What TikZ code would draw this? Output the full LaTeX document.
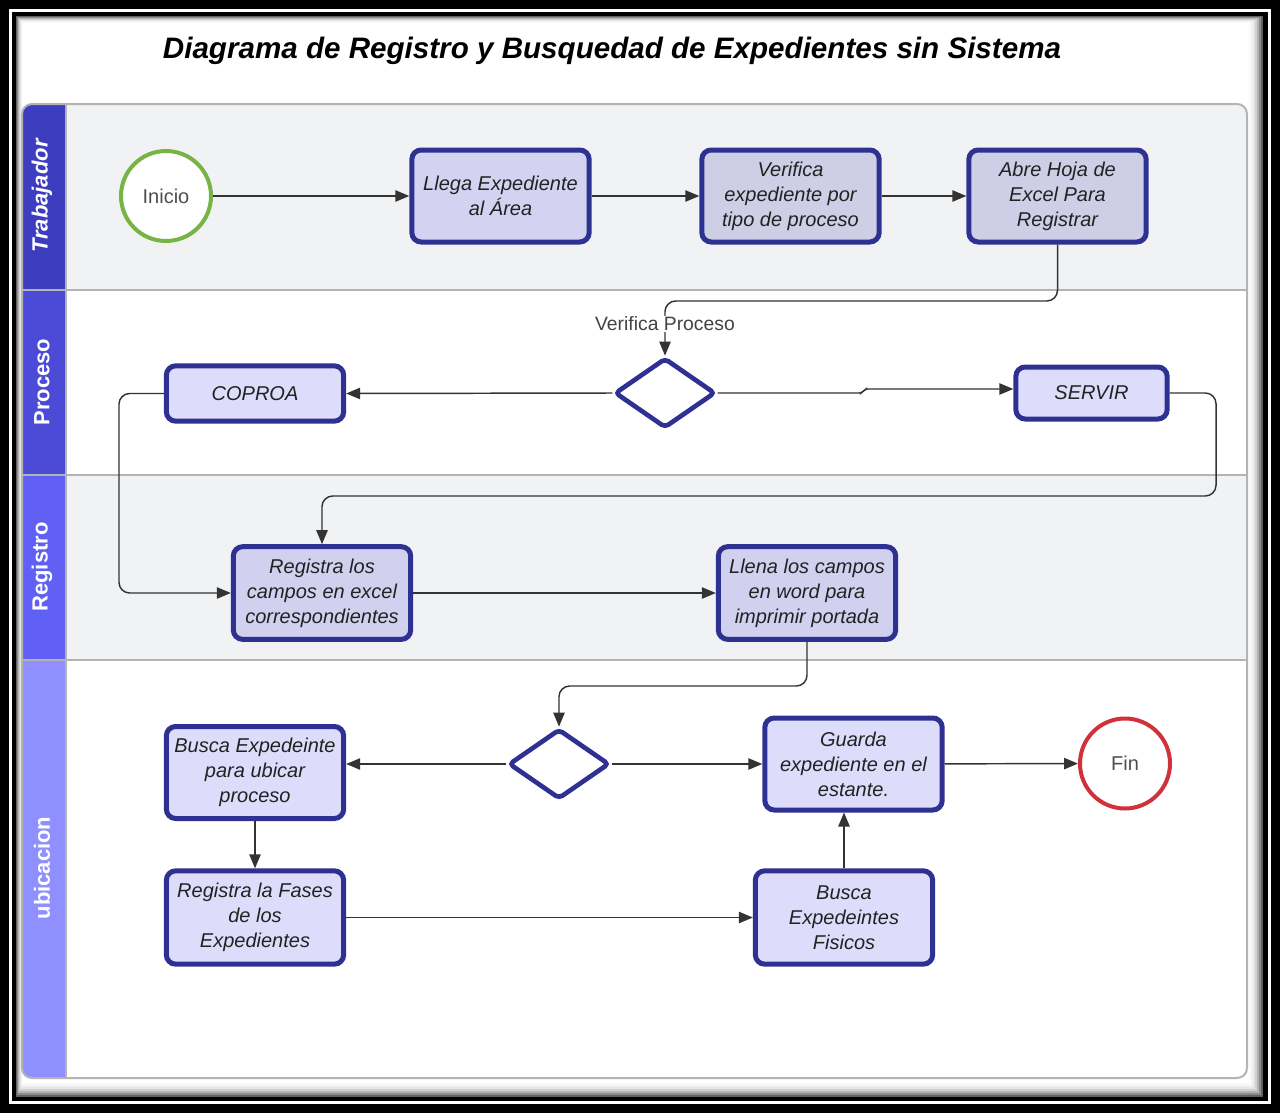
\documentclass[tikz,border=0pt]{standalone}
\usepackage{fontspec}
\setmainfont{Liberation Sans}
\usetikzlibrary{shapes.geometric,arrows.meta}

\definecolor{boxline}{HTML}{2E3192}
\definecolor{fillA}{HTML}{D3D3F1}
\definecolor{fillB}{HTML}{CECEE6}
\definecolor{fillC}{HTML}{D1D1EF}
\definecolor{fillD}{HTML}{DDDDFB}
\definecolor{lanegray}{HTML}{F1F2F4}
\definecolor{laneline}{HTML}{B4B4B4}
\definecolor{hdrA}{HTML}{3D3DBF}
\definecolor{hdrB}{HTML}{4B4BD8}
\definecolor{hdrC}{HTML}{6060F4}
\definecolor{hdrD}{HTML}{8F8FFF}
\definecolor{startgreen}{HTML}{78B346}
\definecolor{endred}{HTML}{D0313B}
\definecolor{connline}{HTML}{333333}
\definecolor{txt}{HTML}{222222}

\tikzset{
  boxfont/.style={font=\fontsize{15}{18.75}\selectfont\itshape, text=txt},
  procbox/.style={boxfont, draw=boxline, line width=3.75pt, rounded corners=7pt,
    minimum width=133pt, minimum height=69pt, inner sep=0pt, align=center},
  shortbox/.style={procbox, minimum height=41.5pt},
  startnode/.style={circle, draw=startgreen, fill=white, line width=3pt,
    minimum size=67.5pt, inner sep=0pt, font=\fontsize{15}{18}\selectfont, text=txt!80!white},
  endnode/.style={startnode, draw=endred},
  decision/.style={diamond, draw=boxline, fill=white, line width=3.5pt,
    rounded corners=3pt, minimum width=75.5pt, minimum height=52.5pt, inner sep=0pt},
  conn/.style={draw=connline, line width=1.1pt,
    -{Triangle[length=10.5pt,width=8.5pt]}, rounded corners=8pt},
  lanelbl/.style={rotate=90, text=white, font=\fontsize{16.5}{20}\selectfont\bfseries},
}

\begin{document}
\begin{tikzpicture}[x=0.75pt, y=-0.75pt]
\useasboundingbox (0,0) rectangle (1280,1113);

% outer frame
\fill[black] (0,0) rectangle (1280,1113);
\draw[white, line width=2.25pt] (10.5,10.5) rectangle (1269.5,1102.5);
\foreach \k/\c in {0/62,1/45,2/30,3/18,4/10,5/5,6/2,7/0}
  \fill[black!\c] (16+\k,16+\k) rectangle (1263-2*\k,1097-2*\k);

% title
\node[font=\fontsize{22.2}{26}\selectfont\bfseries\itshape, text=black] (title)
  at (612,51) {Diagrama de Registro y Busquedad de Expedientes sin Sistema};

% pool and lanes
\begin{scope}
  \clip[rounded corners=7.5pt] (22,104) rectangle (1247,1078);
  \fill[lanegray] (22,104) rectangle (1247,290);
  \fill[white] (22,290) rectangle (1247,475);
  \fill[lanegray] (22,475) rectangle (1247,660);
  \fill[white] (22,660) rectangle (1247,1078);
  \fill[hdrA] (22,104) rectangle (66,290);
  \fill[hdrB] (22,290) rectangle (66,475);
  \fill[hdrC] (22,475) rectangle (66,660);
  \fill[hdrD] (22,660) rectangle (66,1078);
\end{scope}
\draw[laneline, line width=1.5pt] (22,290) -- (1247,290);
\draw[laneline, line width=1.5pt] (22,475) -- (1247,475);
\draw[laneline, line width=1.5pt] (22,660) -- (1247,660);
\draw[laneline, line width=1.5pt] (66,104) -- (66,1078);
\draw[laneline, line width=1.5pt, rounded corners=7.5pt] (22,104) rectangle (1247,1078);

\node[lanelbl, font=\fontsize{16.5}{20}\selectfont\bfseries\itshape] (lTrab) at (42,196) {Trabajador};
\node[lanelbl] (lProc) at (42,382) {Proceso};
\node[lanelbl] (lReg) at (42,567) {Registro};
\node[lanelbl] (lUbi) at (42,868) {ubicacion};

% lane: Trabajador
\node[startnode] (inicio) at (166,196) {Inicio};
\node[procbox, fill=fillA] (llega) at (500.5,196) {Llega Expediente\\al Área};
\node[procbox, fill=fillB] (verif) at (790.5,196) {Verifica\\expediente por\\tipo de proceso};
\node[procbox, fill=fillB] (abre) at (1057.5,196) {Abre Hoja de\\Excel Para\\Registrar};

% lane: Proceso
\node[decision] (d1) at (665,393) {};
\node[shortbox, fill=fillD] (coproa) at (255,393.5) {COPROA};
\node[shortbox, fill=fillD, minimum width=113.5pt, minimum height=39pt] (servir) at (1091.5,393) {SERVIR};

% lane: Registro
\node[procbox, fill=fillC, minimum height=69.5pt] (regcampos) at (322,593) {Registra los\\campos en excel\\correspondientes};
\node[procbox, fill=fillC, minimum height=69.5pt] (llena) at (807,593) {Llena los campos\\en word para\\imprimir portada};

% lane: ubicacion
\node[decision] (d2) at (559,764) {};
\node[procbox, fill=fillD] (busca) at (255,772.5) {Busca Expedeinte\\para ubicar\\proceso};
\node[procbox, fill=fillD, minimum height=70pt] (fases) at (255,917.5) {Registra la Fases\\de los\\Expedientes};
\node[procbox, fill=fillD] (guarda) at (853.5,764) {Guarda\\expediente en el\\estante.};
\node[procbox, fill=fillD, minimum height=70pt] (fisicos) at (844,917.5) {Busca\\Expedeintes\\Fisicos};
\node[endnode] (fin) at (1125,763.5) {Fin};

% connectors
\draw[conn] (inicio) -- (llega);
\draw[conn] (llega) -- (verif);
\draw[conn] (verif) -- (abre);
\draw[conn] (abre.south) |- (665,301) -- (d1.north);
\node[fill=white, inner sep=1pt, font=\fontsize{14.5}{17}\selectfont, text=txt!85!white] (vlbl)
  at (665,324) {Verifica Proceso};
\draw[conn] (d1.west) -- (coproa.east);
\draw[conn, rounded corners=2pt] (d1.east) -- (862,393) -- (865,389) -- ([yshift=3pt]servir.west);
\draw[conn] (servir.east) -| (1216,496) -| (regcampos.north);
\draw[conn] (coproa.west) -| (119,593) -- (regcampos.west);
\draw[conn] (regcampos) -- (llena);
\draw[conn] (llena.south) |- (559,686) -- (d2.north);
\draw[conn] (d2.west) -- (d2.west -| busca.east);
\draw[conn] (d2.east) -- (guarda.west);
\draw[conn] (guarda) -- (fin);
\draw[conn] (busca.south) -- (fases.north);
\draw[conn] (fases) -- (fisicos);
\draw[conn] (fisicos.north) -- (fisicos.north |- guarda.south);
\end{tikzpicture}
\end{document}
